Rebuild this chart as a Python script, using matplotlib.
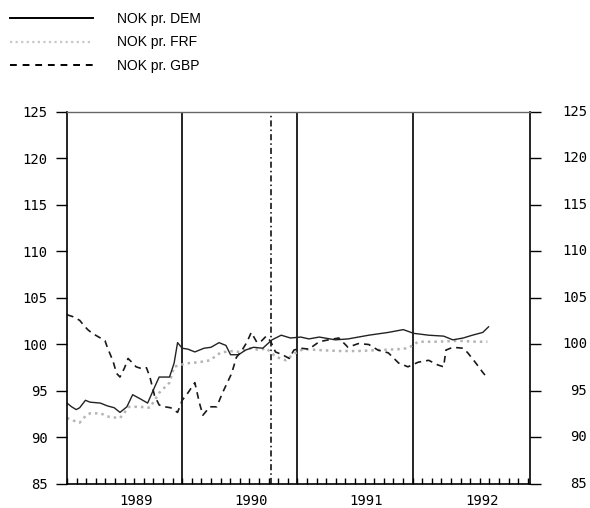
import matplotlib
matplotlib.use("Agg")
import matplotlib.pyplot as plt
from matplotlib.lines import Line2D
import matplotlib.transforms as mtransforms
import numpy as np

# Exchange-rate indices (decimal year, index value)
dem_t = [1989.00, 1989.04, 1989.08, 1989.11, 1989.16, 1989.20, 1989.29, 1989.35,
         1989.41, 1989.46, 1989.52, 1989.57, 1989.63, 1989.70, 1989.76, 1989.80,
         1989.89, 1989.93, 1989.96, 1990.00, 1990.05, 1990.11, 1990.19, 1990.25,
         1990.32, 1990.38, 1990.42, 1990.49, 1990.55, 1990.62, 1990.70, 1990.78,
         1990.86, 1990.94, 1991.03, 1991.10, 1991.19, 1991.33, 1991.44, 1991.62,
         1991.79, 1991.92, 1992.01, 1992.14, 1992.27, 1992.35, 1992.44, 1992.52,
         1992.61, 1992.66]
dem_v = [93.7, 93.3, 93.0, 93.2, 94.0, 93.8, 93.7, 93.4,
         93.2, 92.7, 93.3, 94.6, 94.2, 93.7, 95.4, 96.5,
         96.5, 98.0, 100.2, 99.6, 99.5, 99.2, 99.6, 99.7,
         100.2, 99.9, 98.9, 98.9, 99.4, 99.7, 99.6, 100.5,
         101.0, 100.7, 100.8, 100.6, 100.8, 100.5, 100.6, 101.0,
         101.3, 101.6, 101.2, 101.0, 100.9, 100.5, 100.7, 101.0,
         101.3, 101.9]

frf_t = [1989.00, 1989.06, 1989.11, 1989.16, 1989.20, 1989.29, 1989.37, 1989.46,
         1989.54, 1989.63, 1989.72, 1989.80, 1989.89, 1989.93, 1989.98, 1990.06,
         1990.15, 1990.24, 1990.33, 1990.41, 1990.50, 1990.59, 1990.67, 1990.73,
         1990.81, 1990.90, 1990.97, 1991.05, 1991.19, 1991.36, 1991.53, 1991.70,
         1991.88, 1991.96, 1992.05, 1992.22, 1992.40, 1992.55, 1992.65]
frf_v = [92.1, 91.8, 91.6, 92.3, 92.6, 92.6, 92.2, 92.1,
         93.3, 93.3, 93.2, 94.8, 95.9, 97.6, 97.8, 98.0,
         98.1, 98.3, 99.1, 99.3, 99.2, 99.6, 99.4, 99.6,
         98.7, 98.3, 99.0, 99.5, 99.4, 99.3, 99.3, 99.4,
         99.5, 99.6, 100.3, 100.3, 100.4, 100.3, 100.3]

gbp_t = [1989.00, 1989.05, 1989.11, 1989.15, 1989.18, 1989.22, 1989.29, 1989.33,
         1989.35, 1989.40, 1989.43, 1989.46, 1989.50, 1989.53, 1989.57, 1989.60,
         1989.65, 1989.69, 1989.72, 1989.76, 1989.80, 1989.85, 1989.90, 1989.96,
         1990.00, 1990.05, 1990.11, 1990.15, 1990.18, 1990.24, 1990.30, 1990.35,
         1990.43, 1990.47, 1990.52, 1990.56, 1990.60, 1990.65, 1990.69, 1990.73,
         1990.77, 1990.81, 1990.87, 1990.93, 1990.97, 1991.03, 1991.10, 1991.19,
         1991.27, 1991.36, 1991.44, 1991.53, 1991.62, 1991.70, 1991.79, 1991.88,
         1991.96, 1992.05, 1992.14, 1992.22, 1992.27, 1992.29, 1992.35, 1992.44,
         1992.48, 1992.55, 1992.61, 1992.65]
gbp_v = [103.2, 103.0, 102.6, 102.0, 101.6, 101.2, 100.7, 100.4,
         99.7, 98.2, 96.9, 96.5, 97.5, 98.5, 98.0, 97.6,
         97.4, 97.5, 96.5, 94.5, 93.5, 93.3, 93.2, 92.7,
         94.0, 94.8, 95.9, 93.7, 92.4, 93.3, 93.3, 94.8,
         96.9, 98.6, 99.4, 100.2, 101.3, 100.2, 100.4, 100.9,
         100.3, 99.2, 98.9, 98.5, 99.4, 99.6, 99.5, 100.3,
         100.5, 100.7, 99.7, 100.1, 100.0, 99.4, 99.1, 98.0,
         97.6, 98.1, 98.3, 97.8, 97.6, 99.4, 99.7, 99.6,
         99.1, 98.0, 97.0, 96.4]

series_names = ["NOK pr. DEM", "NOK pr. FRF", "NOK pr. GBP"]
years = [1989, 1990, 1991, 1992]
y_ticks = [85, 90, 95, 100, 105, 110, 115, 120, 125]
peg_date = 1990.77   # krone tied to the ECU

W, H, DPI = 590, 508, 100
fig = plt.figure(figsize=(W / DPI, H / DPI), dpi=DPI)
fig.patch.set_facecolor("white")

left, right, top, bottom = 67, 530, 112, 484
ax = fig.add_axes([left / W, 1 - bottom / H, (right - left) / W, (bottom - top) / H])

dem_style = dict(color="#222222", lw=1.0, ls="-")
frf_style = dict(color="#b4b4b4", lw=1.8, ls=(0, (1, 1.6)))
gbp_style = dict(color="#1a1a1a", lw=1.2, ls=(0, (4, 3)))

ax.plot(frf_t, frf_v, **frf_style)
ax.plot(dem_t, dem_v, **dem_style)
ax.plot(gbp_t, gbp_v, **gbp_style)

ax.set_xlim(1989.0, 1993.02)
ax.set_ylim(85, 125)

# year separators and the peg marker
for yr in years[1:]:
    ax.axvline(yr, color="black", lw=1.2, zorder=1)
ax.axvline(peg_date, color="black", lw=1.1, ls=(0, (4, 2, 1, 2)), zorder=1)

for s in ["left", "bottom", "right"]:
    ax.spines[s].set_color("black")
    ax.spines[s].set_linewidth(1.2)
ax.spines["top"].set_color("#666666")
ax.spines["top"].set_linewidth(1.0)

tick_font = dict(family="DejaVu Sans Mono", size=10)

# x: monthly minor ticks inside, year labels mid-year
ax.set_xticks([y + 0.6 for y in years])
ax.set_xticklabels([str(y) for y in years], **tick_font)
ax.set_xticks(np.arange(1989, 1993.001, 1 / 12), minor=True)
ax.tick_params(axis="x", which="major", length=0, pad=7)
ax.tick_params(axis="x", which="minor", direction="in", length=4, width=1, color="black")

ax.set_yticks(y_ticks)
ax.set_yticklabels([str(v) for v in y_ticks], **tick_font)
ax.tick_params(axis="y", direction="out", length=8, width=1, pad=6, color="black",
               right=True)

# right-hand value labels, right-aligned near the figure edge
right_tf = mtransforms.blended_transform_factory(fig.transFigure, ax.transData)
for v in y_ticks:
    fig.text(587 / W, v, str(v), transform=right_tf, ha="right", va="center",
             **tick_font)

handles = [Line2D([], [], color="black", lw=1.4),
           Line2D([], [], color="#c8c8c8", lw=1.6, ls=(0, (1, 1.5))),
           Line2D([], [], color="black", lw=1.4, ls=(0, (3.5, 3)))]
fig.legend(handles, series_names, loc="upper left",
           bbox_to_anchor=(10 / W, 1 - 12 / H), frameon=False,
           prop=dict(family="Liberation Sans", size=10),
           handlelength=6.0, handletextpad=1.7, labelspacing=0.68,
           borderpad=0, borderaxespad=0)

fig.savefig("out.png", dpi=DPI)
